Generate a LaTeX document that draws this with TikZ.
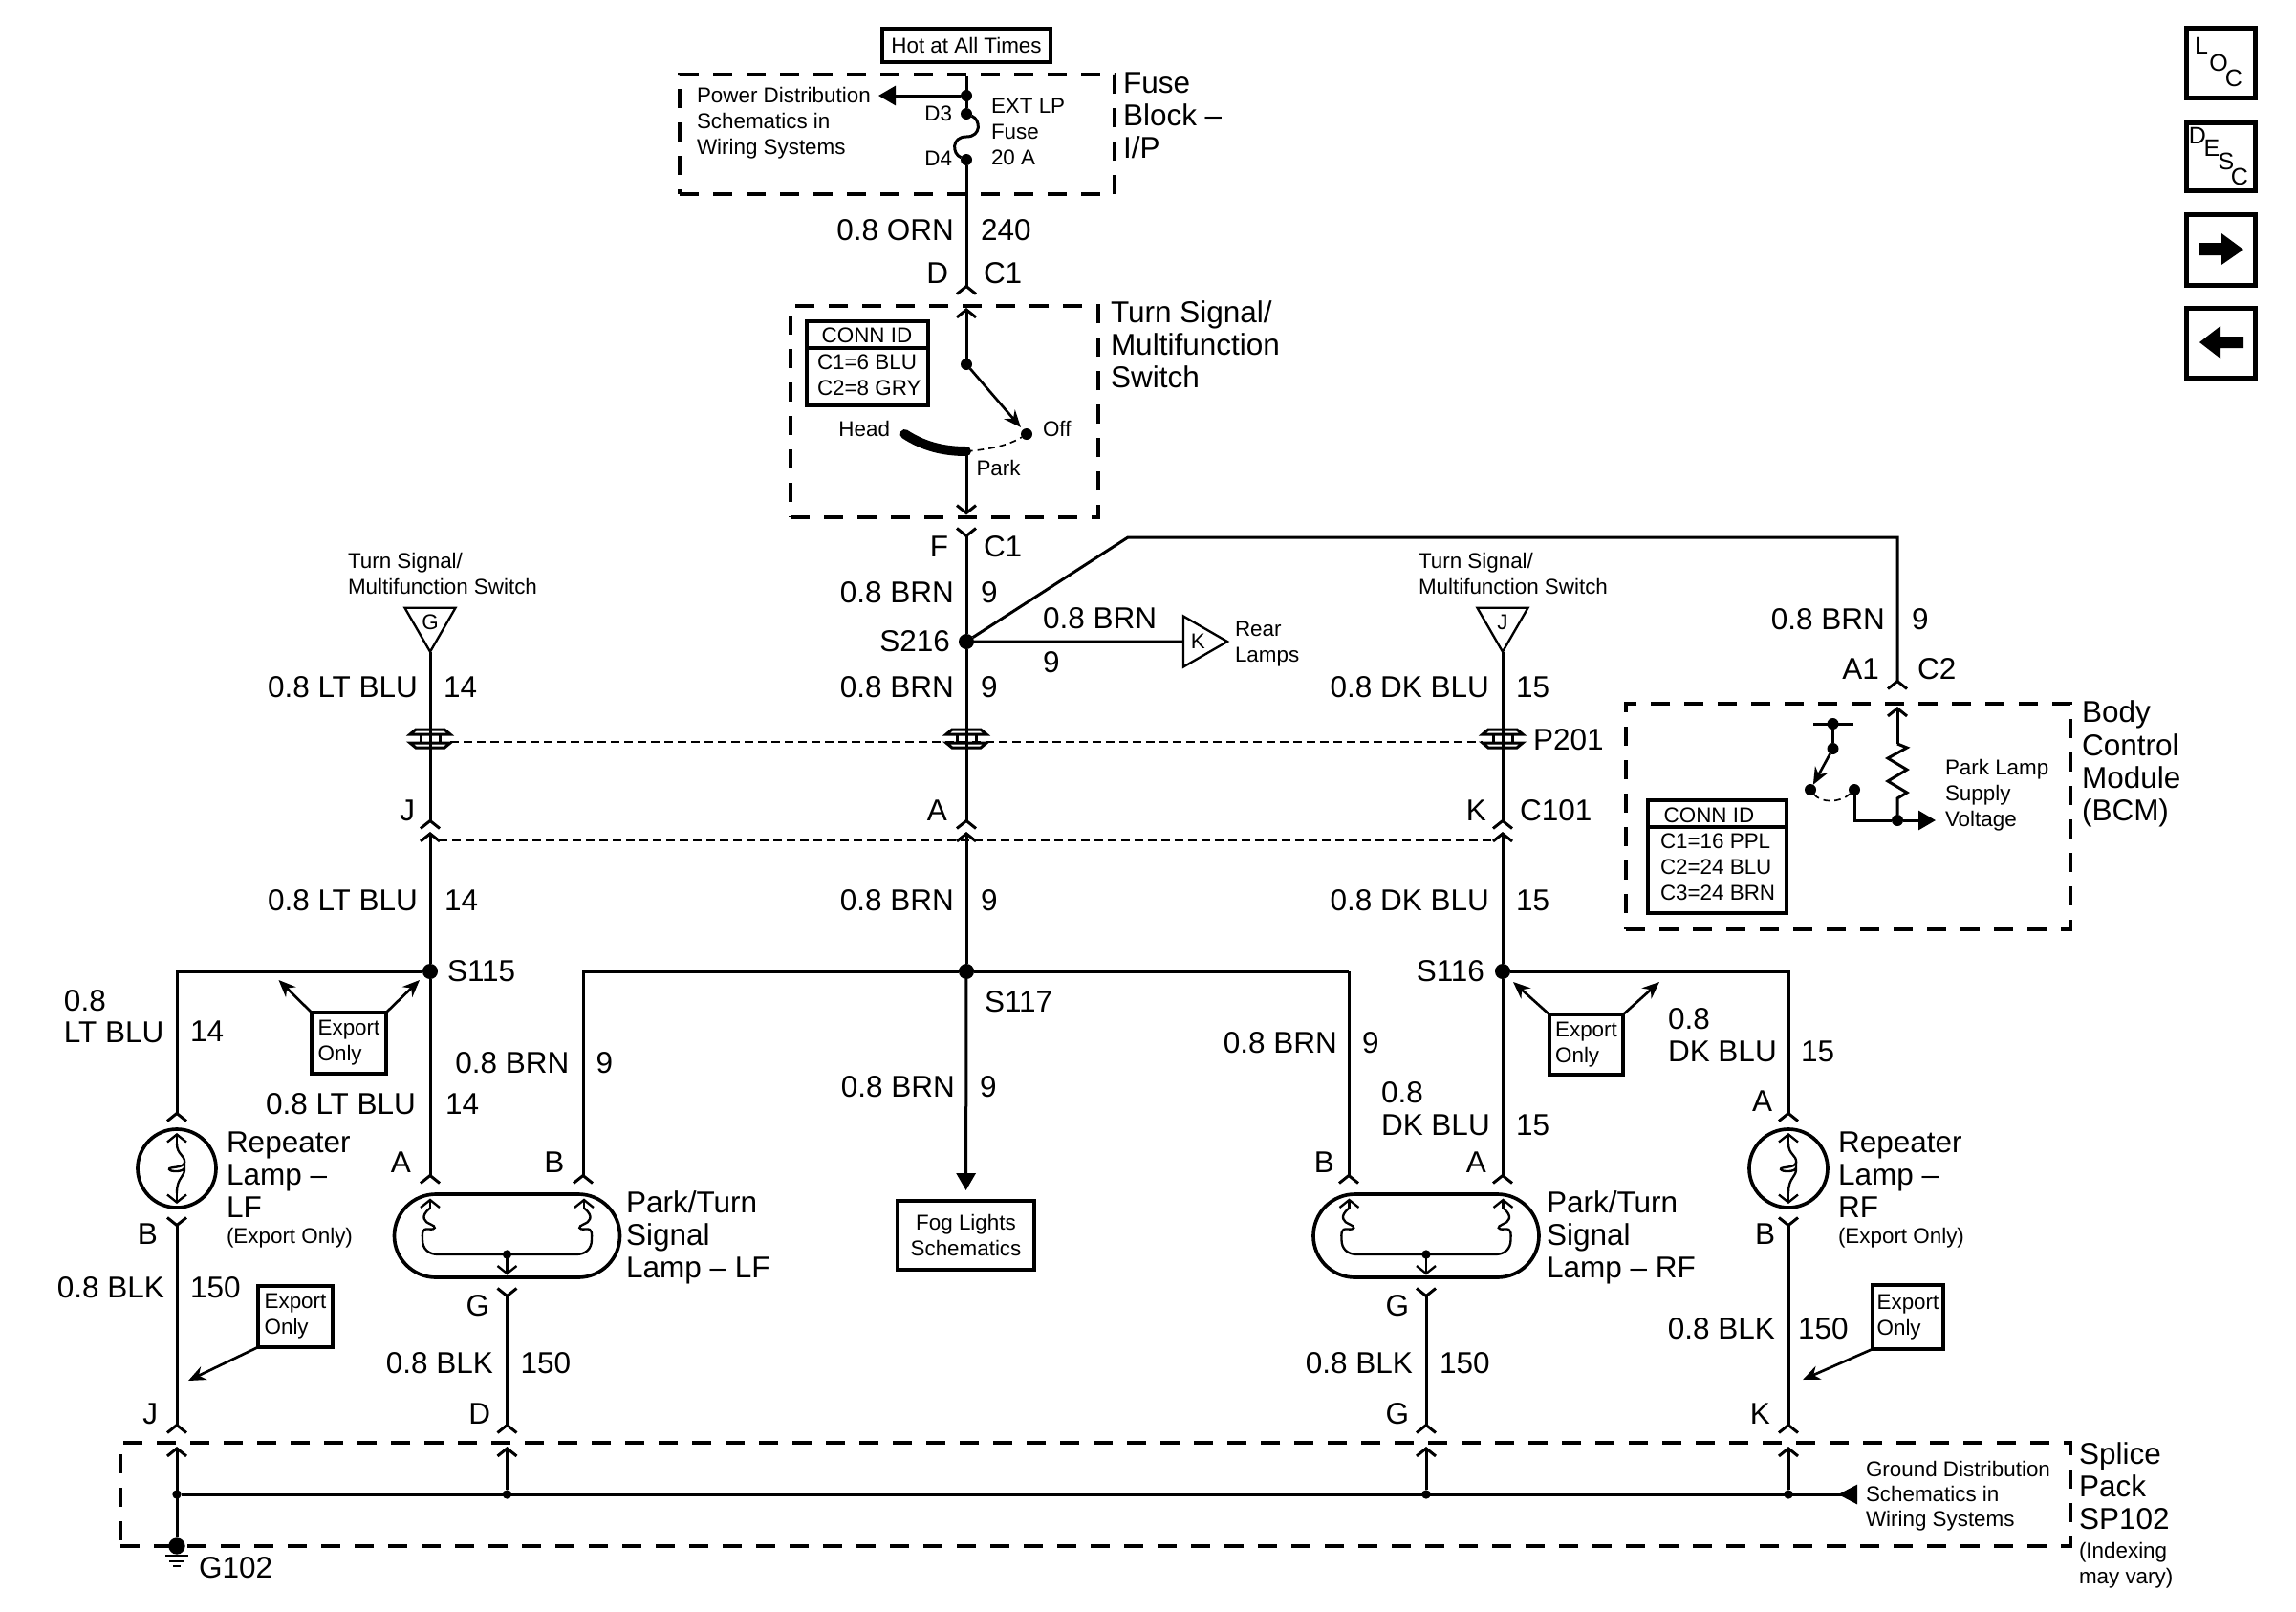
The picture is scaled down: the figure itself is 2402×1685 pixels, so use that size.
\documentclass[tikz,border=0pt]{standalone}
\usepackage{fontspec}
\setmainfont{Liberation Sans}
\usetikzlibrary{shapes.geometric, shapes.misc, arrows.meta}
\newcommand{\wiretxt}{\fontsize{9.45}{10.3}\selectfont}
\newcommand{\smalltxt}{\fontsize{6.72}{8.1}\selectfont}

\begin{document}
\begin{tikzpicture}[
    x=0.3pt, y=-0.3pt,
    outer sep=0pt,
    wire/.style={line width=0.9pt},
    fine/.style={line width=0.7pt},
    pin/.style={-{Straight Barb[length=2.4pt,width=6pt]}},
    plug/.style={-{Straight Barb[reversed,length=2.4pt,width=6pt]}},
    plugboth/.style={{Straight Barb[reversed,length=2.4pt,width=6pt]}-{Straight Barb[reversed,length=2.4pt,width=6pt]}},
    solidtip/.style={-{Triangle[length=5.4pt,width=6pt]}},
    leader/.style={line width=0.8pt, -{Stealth[length=5.4pt,width=4.5pt]}},
    big/.style={font=\wiretxt, anchor=base west, inner sep=0pt, align=left, yshift=0.4pt},
    bigr/.style={font=\wiretxt, anchor=base east, inner sep=0pt, align=left, yshift=0.4pt},
    small/.style={font=\smalltxt, anchor=base west, inner sep=0pt, align=left, yshift=0.4pt},
    smallr/.style={font=\smalltxt, anchor=base east, inner sep=0pt, yshift=0.4pt},
    dashbox/.style={rectangle, draw, line width=1.4pt, dash pattern=on 6pt off 4.5pt, inner sep=0pt},
    box/.style={rectangle, draw, line width=1.1pt, inner sep=0pt, align=center, font=\smalltxt},
    expbox/.style={box, align=left},
    iconbox/.style={rectangle, draw, line width=1.5pt, inner sep=0pt, minimum width=21.6pt},
    iconletter/.style={font=\fontsize{7.5}{7.5}\selectfont, inner sep=0pt},
    passline/.style={line width=0.6pt, dash pattern=on 2.7pt off 1.5pt},
    bigdot/.style={circle, fill=black, inner sep=0pt, minimum size=4.8pt},
    dot/.style={circle, fill=black, inner sep=0pt, minimum size=3.6pt},
    tinydot/.style={circle, fill=black, inner sep=0pt, minimum size=2.8pt},
    tri/.style={regular polygon, regular polygon sides=3, draw, line width=0.7pt, inner sep=0pt, minimum size=18.4pt, font=\smalltxt},
    bulb/.style={circle, draw, line width=1.1pt, inner sep=0pt, minimum size=24.6pt},
    lampbody/.style={rounded rectangle, draw, line width=1.1pt, inner sep=0pt, minimum width=70.8pt, minimum height=26.1pt},
    bulbfil/.pic={
        \draw[fine] (0,-26) .. controls (0,-14) and (9,-14) .. (8,-6) .. controls (7,0) and (-9,-2) .. (-8,1) .. controls (-7,4) and (8,4) .. (8,-1) .. controls (9,10) and (0,8) .. (0,26);
        \draw[fine,pin] (0,-26) -- (0,-37);
        \draw[fine,pin] (0,26) -- (0,37);
    },
    lampfil/.pic={
        \draw[fine] (-80.5,-29) .. controls (-92,-20) and (-86,-14) .. (-80,-12) .. controls (-74,-10) and (-74,-6) .. (-82,-7) .. controls (-90,-8) and (-88.5,-2) .. (-88.5,4) .. controls (-88.5,14) and (-82,19.5) .. (-72,19.5) -- (72,19.5) .. controls (82,19.5) and (88.5,14) .. (88.5,4) .. controls (88.5,-2) and (90,-8) .. (82,-7) .. controls (74,-6) and (74,-10) .. (80,-12) .. controls (86,-14) and (92,-20) .. (80.5,-29);
        \draw[fine,pin] (-80.5,-29) -- (-80.5,-39);
        \draw[fine,pin] (80.5,-29) -- (80.5,-39);
        \node[tinydot] at (0,19.5) {};
        \draw[fine,pin] (0,19.5) -- (0,41);
    },
    passthru/.pic={
        \draw[line width=0.9pt] (-15,-9) -- (15,-9) -- (21,-4) -- (-21,-4) -- cycle;
        \draw[line width=0.9pt] (-21,5) -- (21,5) -- (15,10) -- (-15,10) -- cycle;
        \draw[line width=0.9pt] (-10,-4) -- (-10,5) (10,-4) -- (10,5);
    }
]
\useasboundingbox (0,0) rectangle (2402,1685);

% Fuse block
\node[box, minimum width=52.8pt, minimum height=10.5pt] (hot) at (1011,47.5) {Hot at All Times};
\node[dashbox, minimum width=136.5pt, minimum height=37.5pt] (fuseblock) at (938.5,140.5) {};
\node[big] (fuseblocklbl) at (1175,167) {Fuse\\Block --\\I/P};
\node[small] (pwrlbl) at (729,163) {Power Distribution\\Schematics in\\Wiring Systems};
\node[small] (fuselbl) at (1037,174) {EXT LP\\Fuse\\20 A};
\node[smallr] (d3lbl) at (996,128) {D3};
\node[smallr] (d4lbl) at (996,175) {D4};
\coordinate (fusetop) at (1011,80);
\coordinate (pwrtip) at (919,100);
\node[dot] (pwrdot) at (1011,100) {};
\node[dot] (d3) at (1011,119) {};
\node[dot] (d4) at (1011,167) {};
\draw[wire] (fusetop) -- (d3);
\draw[wire,solidtip] (pwrdot) -- (pwrtip);
\draw[wire] (d3) .. controls (1026,125) and (1027,143) .. (1011,143) .. controls (995,143) and (996,161) .. (d4);

% Wire 240
\coordinate (swplug) at (1011,309);
\draw[wire,plug] (d4) -- (swplug);
\node[bigr] (w240a) at (998,253) {0.8 ORN};
\node[big] (w240b) at (1026,253) {240};
\node[bigr] (dlbl) at (992,298) {D};
\node[big] (c1top) at (1029,298) {C1};

% Turn signal switch
\node[dashbox, minimum width=96.6pt, minimum height=66.3pt] (turnswitch) at (988,430.5) {};
\node[big] (turnlbl) at (1162,407) {Turn Signal/\\Multifunction\\Switch};
\node[box, minimum width=38.1pt, minimum height=26.4pt] (connsw) at (907.5,380) {};
\coordinate (connswline) at (907.5,364);
\draw[line width=1.1pt] (connsw.west |- connswline) -- (connsw.east |- connswline);
\node[font=\smalltxt, inner sep=0pt, anchor=base] (connswhd) at (907,358.5) {CONN ID};
\node[small] (connswtxt) at (855,415) {C1=6 BLU\\C2=8 GRY};
\coordinate (swpin) at (1011,322);
\node[dot] (pivot) at (1011,381) {};
\node[dot] (off) at (1074,454) {};
\coordinate (head) at (946.5,454);
\coordinate (park) at (1011,472);
\coordinate (swpinb) at (1011,538.5);
\draw[wire,pin] (pivot) -- (swpin);
\draw[wire,leader,shorten >=1pt] (pivot) -- (off);
\draw[line width=3pt, line cap=round] (head) .. controls (965,466) and (985,472) .. (park);
\draw[line width=0.5pt, dash pattern=on 2pt off 1.5pt] (park) .. controls (1035,470) and (1055,466) .. (off);
\draw[wire,pin] (park) -- (swpinb);
\node[smallr] (headlbl) at (931,457.5) {Head};
\node[small] (offlbl) at (1091,457.5) {Off};
\node[small] (parklbl) at (1021.5,498.5) {Park};

% Splice S216
\node[bigdot] (s216) at (1011,671) {};
\coordinate (fplug) at (1011,551);
\coordinate (bendA) at (1180,562);
\coordinate (bendB) at (1985,562);
\coordinate (a1plug) at (1985,722);
\draw[wire,plug] (s216) -- (fplug);
\draw[wire,plug] (s216) -- (bendA) -- (bendB) -- (a1plug);
\node[bigr] (flbl) at (992,584) {F};
\node[big] (c1bot) at (1029,584) {C1};
\node[bigr] (w9a) at (998,632) {0.8 BRN};
\node[big] (w9b) at (1026,632) {9};
\node[smallr, font=\wiretxt] (s216lbl) at (994,683) {S216};
\node[tri, shape border rotate=-90] (trik) at (1253.3,671) {K};
\draw[wire] (s216) -- (trik);
\node[big] (w9c) at (1091,659) {0.8 BRN};
\node[big] (w9d) at (1091,705) {9};
\node[small] (rearlbl) at (1292,694) {Rear\\Lamps};
\node[bigr] (w9e) at (1972,660) {0.8 BRN};
\node[big] (w9f) at (2000,660) {9};
\node[bigr] (a1lbl) at (1966,712) {A1};
\node[big] (c2lbl) at (2006,712) {C2};

% Body control module
\node[dashbox, minimum width=139.5pt, minimum height=70.8pt] (bcm) at (1933.5,854) {};
\node[big] (bcmlbl) at (2178,860) {Body\\Control\\Module\\(BCM)};
\node[small] (supplylbl) at (2035,866) {Park Lamp\\Supply\\Voltage};
\coordinate (bcmpin) at (1985,739);
\coordinate (zigtop) at (1985,778);
\coordinate (barL) at (1897,757);
\coordinate (barR) at (1939,757);
\coordinate (supplytip) at (2025,858);
\node[dot] (bartop) at (1917.5,757) {};
\node[dot] (barpiv) at (1917.5,783) {};
\node[dot] (bcma) at (1894,826) {};
\node[dot] (bcmb) at (1940,826) {};
\node[dot] (supply) at (1985,858) {};
\draw[wire,pin] (zigtop) -- (bcmpin);
\draw[wire] (zigtop) -- ++(10,4) -- ++(-20,11) -- ++(20,12) -- ++(-20,12) -- ++(20,12) -- ++(-10,6) -- (supply);
\draw[wire] (barL) -- (barR);
\draw[wire] (bartop) -- (barpiv);
\draw[wire,leader] (barpiv) -- (bcma);
\draw[line width=0.5pt, dash pattern=on 2pt off 1.5pt] (bcma) .. controls (1905,840) and (1925,840) .. (bcmb);
\draw[wire] (bcmb) |- (supply);
\draw[wire,solidtip] (supply) -- (supplytip);
\node[box, minimum width=43.5pt, minimum height=35.4pt] (connbcm) at (1796.5,896) {};
\coordinate (connbcmline) at (1796.5,865);
\draw[line width=1.1pt] (connbcm.west |- connbcmline) -- (connbcm.east |- connbcmline);
\node[font=\smalltxt, inner sep=0pt, anchor=base] (connbcmhd) at (1788,860) {CONN ID};
\node[small] (connbcmtxt) at (1737,943) {C1=16 PPL\\C2=24 BLU\\C3=24 BRN};

% Inputs from the switch
\node[tri, shape border rotate=180] (trig) at (450,651) {G};
\node[tri, shape border rotate=180] (trij) at (1572,651) {J};
\node[small] (turnG) at (364,623) {Turn Signal/\\Multifunction Switch};
\node[small] (turnJ) at (1484,623) {Turn Signal/\\Multifunction Switch};

% Pass-through and C101
\node[bigdot] (s115) at (450,1016) {};
\node[bigdot] (s117) at (1011,1016) {};
\node[bigdot] (s116) at (1572,1016) {};
\coordinate (jplug) at (450,868);
\coordinate (aplug) at (1011,868);
\coordinate (kplug) at (1572,868);
\coordinate (jpin) at (450,870);
\coordinate (apin) at (1011,870);
\coordinate (kpin) at (1572,870);
\draw[wire,plug] (trig.corner 1) -- (jplug);
\draw[wire,plug] (s216) -- (aplug);
\draw[wire,plug] (trij.corner 1) -- (kplug);
\draw[wire,pin] (s115) -- (jpin);
\draw[wire,pin] (s117) -- (apin);
\draw[wire,pin] (s116) -- (kpin);
\path (450,772) pic {passthru};
\path (1011,772) pic {passthru};
\path (1572,772) pic {passthru};
\coordinate (p201L) at (471,776);
\coordinate (p201R) at (1551,776);
\coordinate (c101L) at (459,879);
\coordinate (c101R) at (1563,879);
\draw[passline] (p201L) -- (p201R);
\draw[passline] (c101L) -- (c101R);
\node[big] (p201lbl) at (1604,786) {P201};
\node[bigr] (jlbl) at (434,860) {J};
\node[bigr] (alocal) at (991,860) {A};
\node[bigr] (klbl) at (1555,860) {K};
\node[big] (c101lbl) at (1590,860) {C101};
\node[bigr] (w14a) at (437,731) {0.8 LT BLU};
\node[big] (w14b) at (464,731) {14};
\node[bigr] (w9g) at (998,731) {0.8 BRN};
\node[big] (w9h) at (1026,731) {9};
\node[bigr] (w15a) at (1558,731) {0.8 DK BLU};
\node[big] (w15b) at (1586,731) {15};
\node[bigr] (w14c) at (437,954) {0.8 LT BLU};
\node[big] (w14d) at (465,954) {14};
\node[bigr] (w9i) at (998,954) {0.8 BRN};
\node[big] (w9j) at (1026,954) {9};
\node[bigr] (w15c) at (1558,954) {0.8 DK BLU};
\node[big] (w15d) at (1586,954) {15};
\node[big] (s115lbl) at (468,1028) {S115};
\node[bigr] (s116lbl) at (1553,1028) {S116};
\node[big] (s117lbl) at (1030,1060) {S117};

% Fog lights branch
\node[box, line width=1.2pt, minimum width=42.9pt, minimum height=21.6pt] (fog) at (1010.5,1292) {Fog Lights\\Schematics};
\draw[wire,solidtip,shorten >=3.3pt] (s117) -- (fog);
\node[bigr] (w9k) at (999,1149) {0.8 BRN};
\node[big] (w9l) at (1025,1149) {9};

% Left lamps
\node[bulb] (replf) at (185,1222) {};
\path (185,1222) pic {bulbfil};
\coordinate (replftop) at (185,1174);
\coordinate (replfbot) at (185,1272);
\coordinate (splJ) at (185,1500);
\draw[wire,plug] (s115) -| (replftop);
\draw[wire,plugboth] (replfbot) -- (splJ);
\node[big] (repLFlbl) at (237,1275) {Repeater\\Lamp --\\LF};
\node[small] (repLFexp) at (237,1302) {(Export Only)};
\node[big] (w14e) at (67,1092) {0.8\\[-0.2pt]LT BLU};
\node[big] (w14f) at (199,1091) {14};
\node[bigr] (blf) at (165,1303) {B};
\node[bigr] (w150a) at (172,1359) {0.8 BLK};
\node[big] (w150b) at (199,1359) {150};
\node[bigr] (jbot) at (165,1491) {J};
\node[expbox, minimum width=23.4pt, minimum height=19.2pt] (exp1) at (365,1091) {Export\\Only};
\coordinate (exp1l) at (291.5,1025);
\coordinate (exp1r) at (439,1025);
\draw[leader] (exp1.north west) -- (exp1l);
\draw[leader] (exp1.north east) -- (exp1r);
\node[expbox, minimum width=23.4pt, minimum height=19.2pt] (exp2) at (309,1377) {Export\\Only};
\coordinate (exp2t) at (197,1444);
\draw[leader] (exp2.south west) -- (exp2t);

\node[lampbody] (lamplf) at (530.5,1292.5) {};
\path (530.5,1292.5) pic {lampfil};
\coordinate (lfa) at (450,1239);
\coordinate (lfb) at (610,1239);
\coordinate (lfbend) at (610,1016);
\coordinate (lfg) at (530.5,1346);
\coordinate (splD) at (530.5,1500);
\draw[wire,plug] (s115) -- (lfa);
\draw[wire,plug] (s117) -- (lfbend) -- (lfb);
\draw[wire,plugboth] (lfg) -- (splD);
\node[big] (parkLFlbl) at (655,1338) {Park/Turn\\Signal\\Lamp -- LF};
\node[bigr] (w14g) at (435,1167) {0.8 LT BLU};
\node[big] (w14h) at (466,1167) {14};
\node[bigr] (w9m) at (595.5,1124) {0.8 BRN};
\node[big] (w9n) at (623.5,1124) {9};
\node[bigr] (alf) at (430,1228) {A};
\node[bigr] (blamp) at (590.5,1228) {B};
\node[bigr] (glf) at (512,1378) {G};
\node[bigr] (w150c) at (516,1438) {0.8 BLK};
\node[big] (w150d) at (544.5,1438) {150};
\node[bigr] (dbot) at (513,1491) {D};

% Right lamps
\node[lampbody] (lamprf) at (1492,1292.5) {};
\path (1492,1292.5) pic {lampfil};
\coordinate (rfa) at (1572,1239);
\coordinate (rfb) at (1411,1239);
\coordinate (rfbend) at (1411,1016);
\coordinate (rfg) at (1492,1346);
\coordinate (splG) at (1492,1500);
\draw[wire] (s117) -- (rfbend);
\draw[wire,plug] (rfbend) -- (rfb);
\draw[wire,plug] (s116) -- (rfa);
\draw[wire,plugboth] (rfg) -- (splG);
\node[big] (parkRFlbl) at (1618,1338) {Park/Turn\\Signal\\Lamp -- RF};
\node[bigr] (w9o) at (1399,1103) {0.8 BRN};
\node[big] (w9p) at (1425,1103) {9};
\node[big] (w15e) at (1445,1189) {0.8\\DK BLU};
\node[big] (w15f) at (1586,1189) {15};
\node[bigr] (brf) at (1396,1228) {B};
\node[bigr] (arf) at (1555,1228) {A};
\node[bigr] (grf) at (1474,1378) {G};
\node[bigr] (w150e) at (1478,1438) {0.8 BLK};
\node[big] (w150f) at (1506,1438) {150};
\node[bigr] (gbot) at (1474,1491) {G};

\node[bulb] (reprf) at (1871,1222) {};
\path (1871,1222) pic {bulbfil};
\coordinate (reprftop) at (1871,1174);
\coordinate (reprfbot) at (1871,1272);
\coordinate (splK) at (1871,1500);
\draw[wire,plug] (s116) -| (reprftop);
\draw[wire,plugboth] (reprfbot) -- (splK);
\node[big] (repRFlbl) at (1923,1275) {Repeater\\Lamp --\\RF};
\node[small] (repRFexp) at (1923,1302) {(Export Only)};
\node[big] (w15g) at (1745,1112) {0.8\\DK BLU};
\node[big] (w15h) at (1884,1112) {15};
\node[bigr] (arep) at (1854,1164) {A};
\node[bigr] (brep) at (1857,1303) {B};
\node[bigr] (w150g) at (1857,1402) {0.8 BLK};
\node[big] (w150h) at (1881,1402) {150};
\node[bigr] (kbot) at (1852,1491) {K};
\node[expbox, minimum width=23.2pt, minimum height=18.9pt] (exp3) at (1659.5,1092.5) {Export\\Only};
\coordinate (exp3l) at (1583,1027);
\coordinate (exp3r) at (1736,1027);
\draw[leader] (exp3.north west) -- (exp3l);
\draw[leader] (exp3.north east) -- (exp3r);
\node[expbox, minimum width=22.2pt, minimum height=20.1pt] (exp4) at (1996,1377.5) {Export\\Only};
\coordinate (exp4t) at (1886,1443);
\draw[leader] (exp4.south west) -- (exp4t);

% Splice pack
\node[dashbox, minimum width=612pt, minimum height=32.4pt] (splice) at (1146,1563) {};
\node[big] (splicelbl) at (2175,1601) {Splice\\Pack\\SP102};
\node[small] (indexlbl) at (2175,1658) {(Indexing\\may vary)};
\node[small, font=\fontsize{6.72}{7.8}\selectfont] (gndlbl) at (1952,1598) {Ground Distribution\\Schematics in\\Wiring Systems};
\node[tinydot] (bus1) at (185,1563) {};
\node[tinydot] (bus2) at (530.5,1563) {};
\node[tinydot] (bus3) at (1492,1563) {};
\node[tinydot] (bus4) at (1871,1563) {};
\node[circle, fill=black, inner sep=0pt, minimum size=5.2pt] (g102) at (185,1617) {};
\coordinate (pinJ) at (185,1513);
\coordinate (pinD) at (530.5,1513);
\coordinate (pinG) at (1492,1513);
\coordinate (pinK) at (1871,1513);
\coordinate (gndarrow) at (1943,1563);
\draw[wire,pin] (g102) -- (pinJ);
\draw[wire,pin] (bus2) -- (pinD);
\draw[wire,pin] (bus3) -- (pinG);
\draw[wire,pin] (bus4) -- (pinK);
\draw[wire,-{Triangle[reversed,length=6pt,width=6pt]}] (bus1) -- (gndarrow);
\coordinate (gnda) at (173,1627);
\coordinate (gndb) at (197,1627);
\coordinate (gndc) at (177,1633);
\coordinate (gndd) at (193,1633);
\coordinate (gnde) at (181,1638);
\coordinate (gndf) at (189,1638);
\draw[fine] (gnda) -- (gndb) (gndc) -- (gndd) (gnde) -- (gndf);
\node[big] (g102lbl) at (208,1652) {G102};

% Navigation icons
\node[iconbox, minimum height=21.9pt] (iconloc) at (2323.5,65.5) {};
\node[iconletter] (locl) at (2303,48) {L};
\node[iconletter] (loco) at (2321,66) {O};
\node[iconletter] (locc) at (2337,82) {C};
\node[iconbox, minimum height=21.3pt] (icondesc) at (2323.5,163.5) {};
\node[iconletter] (descd) at (2299,142) {D};
\node[iconletter] (desce) at (2314,155) {E};
\node[iconletter] (descs) at (2329,169) {S};
\node[iconletter] (descc) at (2343,185) {C};
\node[iconbox, minimum height=22.2pt] (iconnext) at (2323.5,261) {};
\fill (2301,254) -- (2324,254) -- (2324,244) -- (2347,261) -- (2324,277) -- (2324,267) -- (2301,267) -- cycle;
\node[iconbox, minimum height=21.9pt] (iconprev) at (2323.5,358.5) {};
\fill (2347,352) -- (2323,352) -- (2323,341) -- (2301,358) -- (2323,375) -- (2323,364) -- (2347,364) -- cycle;

\end{tikzpicture}
\end{document}
